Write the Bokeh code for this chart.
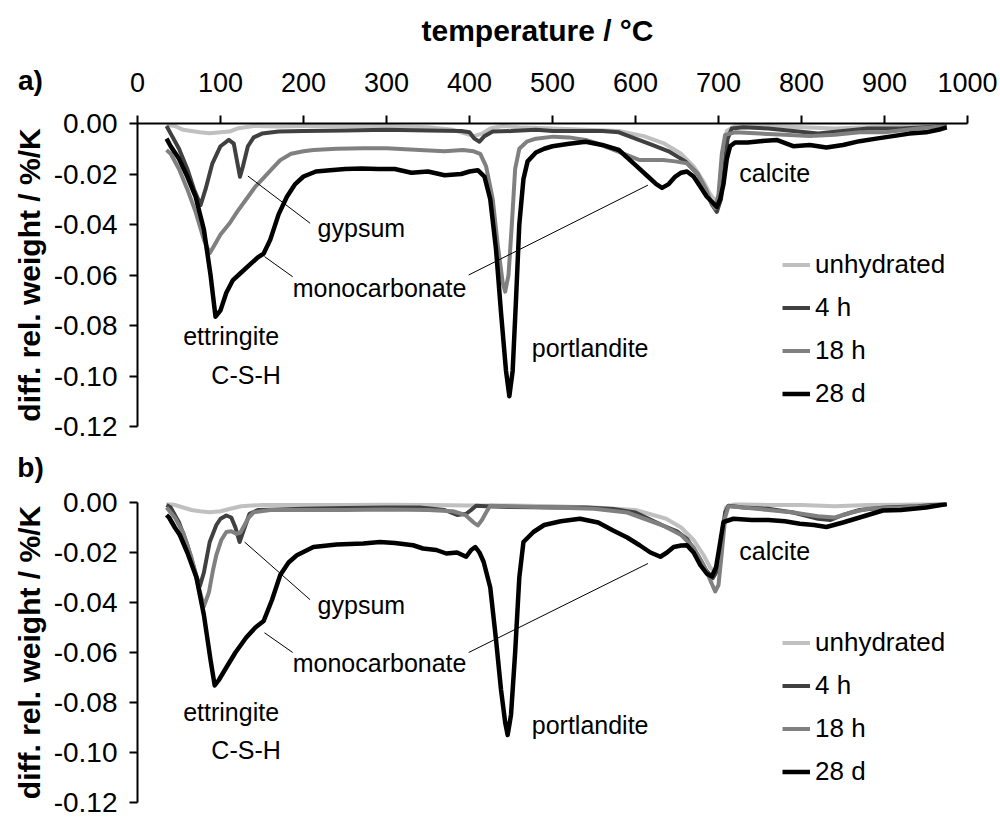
from bokeh.plotting import figure
from bokeh.layouts import column
from bokeh.models import FixedTicker, NumeralTickFormatter, Legend, LegendItem, Range1d, GridBox
from bokeh.core.properties import value
from bokeh.embed import file_html
from bokeh.resources import INLINE

FONT = "Liberation Sans"

series_names = ["unhydrated", "4 h", "18 h", "28 d"]
series_colors = ["#c0c0c0", "#404040", "#808080", "#000000"]
series_widths = [4, 4, 4, 4.5]

x_ticks = [0, 100, 200, 300, 400, 500, 600, 700, 800, 900, 1000]
y_ticks = [-0.12, -0.10, -0.08, -0.06, -0.04, -0.02, 0.00]

a_unh_T = [35, 45, 55, 65, 75, 87, 100, 111, 120, 140, 170, 200, 250, 300, 350, 380, 395, 405, 415, 425, 440, 460, 500, 540, 580, 610, 635, 655, 670, 682, 690, 697, 702, 706, 710, 720, 760, 800, 840, 880, 920, 950, 975]
a_unh_v = [-0.0005, -0.001, -0.0025, -0.003, -0.0035, -0.0039, -0.0035, -0.0032, -0.002, -0.001, -0.0012, -0.001, -0.001, -0.001, -0.0015, -0.0025, -0.004, -0.005, -0.004, -0.002, -0.001, -0.0015, -0.002, -0.0025, -0.003, -0.005, -0.008, -0.012, -0.017, -0.023, -0.028, -0.031, -0.027, -0.012, -0.003, -0.001, -0.001, -0.0015, -0.002, -0.0015, -0.001, -0.001, -0.0005]

a_4h_T = [35, 40, 50, 60, 68, 76, 82, 90, 100, 110, 116, 120, 123.5, 127, 133, 140, 150, 170, 200, 250, 300, 350, 390, 400, 406, 412, 418, 428, 450, 480, 500, 530, 560, 580, 600, 620, 640, 660, 675, 685, 692, 698, 703, 707, 711, 716, 730, 760, 790, 820, 850, 880, 920, 950, 975]
a_4h_v = [-0.001, -0.004, -0.010, -0.018, -0.026, -0.0323, -0.026, -0.016, -0.009, -0.0065, -0.008, -0.015, -0.0211, -0.017, -0.009, -0.0055, -0.004, -0.0032, -0.003, -0.0028, -0.0025, -0.0028, -0.003, -0.0035, -0.006, -0.0072, -0.005, -0.0032, -0.003, -0.0025, -0.003, -0.003, -0.003, -0.0035, -0.006, -0.0085, -0.011, -0.015, -0.020, -0.027, -0.032, -0.035, -0.030, -0.018, -0.006, -0.002, -0.0015, -0.002, -0.003, -0.004, -0.003, -0.002, -0.002, -0.0015, -0.001]

a_18h_T = [35, 40, 50, 60, 70, 80, 87, 93, 100, 111, 120, 131, 142, 152, 162, 172, 185, 200, 212, 240, 272, 300, 340, 370, 392, 405, 413, 420, 428, 434, 440, 443, 447, 451, 455, 460, 469, 480, 501, 520, 540, 553, 570, 590, 605, 620, 633, 648, 662, 675, 685, 691, 696, 700, 704, 708, 720, 750, 780, 810, 840, 870, 900, 940, 975]
a_18h_v = [-0.0105, -0.012, -0.018, -0.026, -0.035, -0.046, -0.0514, -0.048, -0.044, -0.0395, -0.035, -0.030, -0.025, -0.0215, -0.018, -0.0145, -0.012, -0.011, -0.0105, -0.010, -0.0098, -0.0098, -0.0105, -0.011, -0.0105, -0.011, -0.012, -0.017, -0.030, -0.048, -0.063, -0.0666, -0.060, -0.040, -0.018, -0.010, -0.0072, -0.006, -0.0052, -0.0055, -0.0065, -0.0078, -0.010, -0.0125, -0.0145, -0.0145, -0.0145, -0.015, -0.0158, -0.020, -0.026, -0.031, -0.0336, -0.028, -0.012, -0.0045, -0.0035, -0.004, -0.0045, -0.005, -0.0045, -0.0035, -0.0035, -0.002, -0.001]

a_28d_T = [35, 40, 50, 60, 70, 80, 88, 94, 100, 107, 115, 125, 135, 145, 152, 160, 170, 180, 190, 200, 215, 232, 250, 270, 290, 310, 330, 350, 370, 390, 400, 410, 418, 425, 432, 438, 444, 448, 452, 456, 460, 465, 470, 480, 490, 500, 520, 540, 560, 580, 600, 615, 625, 632, 640, 648, 655, 662, 670, 678, 686, 692, 698, 702, 706, 710, 714, 720, 735, 750, 770, 790, 810, 830, 850, 870, 890, 910, 930, 950, 965, 975]
a_28d_v = [-0.006, -0.009, -0.014, -0.021, -0.029, -0.042, -0.060, -0.0765, -0.074, -0.067, -0.062, -0.059, -0.056, -0.053, -0.0515, -0.046, -0.036, -0.029, -0.024, -0.021, -0.019, -0.0185, -0.018, -0.0178, -0.018, -0.018, -0.0195, -0.019, -0.0205, -0.020, -0.019, -0.0185, -0.021, -0.030, -0.050, -0.075, -0.098, -0.108, -0.098, -0.070, -0.040, -0.022, -0.015, -0.0115, -0.010, -0.009, -0.008, -0.0072, -0.0085, -0.0105, -0.0165, -0.021, -0.024, -0.0255, -0.024, -0.021, -0.0195, -0.019, -0.021, -0.025, -0.029, -0.031, -0.033, -0.030, -0.024, -0.014, -0.009, -0.0075, -0.0075, -0.007, -0.0065, -0.009, -0.0085, -0.0095, -0.0085, -0.007, -0.006, -0.005, -0.004, -0.0035, -0.0025, -0.0015]

b_unh_T = [35, 45, 55, 65, 75, 87, 100, 112, 125, 150, 200, 250, 300, 350, 400, 450, 500, 550, 600, 637, 655, 670, 682, 690, 696, 701, 705, 709, 720, 760, 800, 840, 880, 920, 950, 975]
b_unh_v = [0.0, -0.001, -0.002, -0.003, -0.0035, -0.0039, -0.0035, -0.0025, -0.0015, -0.001, -0.001, -0.001, -0.0008, -0.001, -0.0012, -0.0012, -0.0015, -0.002, -0.003, -0.0065, -0.010, -0.015, -0.021, -0.026, -0.028, -0.024, -0.010, -0.002, -0.0005, -0.001, -0.001, -0.0015, -0.001, -0.0008, -0.0005, -0.0003]

b_4h_T = [35, 40, 50, 60, 68, 75, 80, 87, 95, 100, 107, 113, 118, 123, 128, 135, 145, 170, 200, 250, 300, 340, 370, 385, 396, 402, 408, 420, 450, 500, 540, 573, 600, 633, 650, 662, 675, 685, 693, 699, 704, 708, 712, 730, 760, 790, 820, 835, 850, 870, 900, 940, 975]
b_4h_v = [-0.001, -0.002, -0.008, -0.017, -0.026, -0.0336, -0.028, -0.0158, -0.009, -0.0065, -0.0052, -0.006, -0.010, -0.0158, -0.011, -0.0045, -0.003, -0.0028, -0.0025, -0.0022, -0.002, -0.002, -0.003, -0.005, -0.0045, -0.003, -0.0013, -0.0015, -0.0018, -0.002, -0.002, -0.0026, -0.004, -0.0092, -0.0115, -0.0145, -0.021, -0.027, -0.0303, -0.027, -0.015, -0.004, -0.0013, -0.002, -0.0025, -0.004, -0.0065, -0.007, -0.005, -0.003, -0.002, -0.0015, -0.0005]

b_18h_T = [35, 45, 55, 65, 73, 80, 86, 91, 95, 101, 107, 113, 119, 124, 129, 134, 140, 160, 200, 250, 300, 350, 380, 395, 405, 410, 415, 420, 425, 450, 500, 550, 590, 633, 655, 670, 682, 690, 696, 700, 704, 708, 712, 730, 760, 790, 820, 840, 860, 880, 920, 950, 975]
b_18h_v = [-0.002, -0.006, -0.012, -0.022, -0.033, -0.0415, -0.036, -0.027, -0.021, -0.015, -0.0118, -0.0115, -0.0125, -0.012, -0.009, -0.006, -0.0039, -0.003, -0.003, -0.003, -0.0028, -0.003, -0.0035, -0.005, -0.008, -0.0092, -0.007, -0.004, -0.0013, -0.0015, -0.002, -0.0025, -0.004, -0.0092, -0.013, -0.018, -0.025, -0.031, -0.0356, -0.033, -0.020, -0.006, -0.0015, -0.002, -0.003, -0.004, -0.0055, -0.006, -0.004, -0.0025, -0.002, -0.0015, -0.0008]

b_28d_T = [35, 38, 45, 51, 60, 71, 80, 88, 93, 98, 107, 118, 131, 142, 152, 162, 172, 182, 192, 212, 240, 272, 292, 310, 332, 344, 360, 372, 385, 396, 402, 407, 412, 417, 425, 432, 438, 443, 446, 450, 455, 460, 465, 477, 490, 510, 533, 555, 573, 590, 605, 618, 630, 638, 646, 655, 662, 670, 678, 686, 692, 697, 701, 706, 718, 740, 760, 780, 798, 815, 830, 850, 870, 898, 920, 950, 975]
b_28d_v = [-0.005, -0.006, -0.010, -0.013, -0.020, -0.030, -0.045, -0.063, -0.0732, -0.071, -0.066, -0.060, -0.054, -0.050, -0.0474, -0.039, -0.029, -0.024, -0.0211, -0.0178, -0.0168, -0.0164, -0.0158, -0.0162, -0.0171, -0.0184, -0.019, -0.0204, -0.020, -0.0217, -0.019, -0.0178, -0.020, -0.0237, -0.034, -0.055, -0.075, -0.088, -0.093, -0.085, -0.060, -0.030, -0.0158, -0.0118, -0.009, -0.0075, -0.0065, -0.008, -0.0112, -0.014, -0.0171, -0.020, -0.0217, -0.020, -0.0178, -0.0172, -0.0171, -0.020, -0.025, -0.0285, -0.0296, -0.026, -0.018, -0.0078, -0.0065, -0.007, -0.007, -0.0075, -0.0085, -0.009, -0.0098, -0.008, -0.006, -0.0032, -0.003, -0.002, -0.0006]

ann_labels = ["gypsum", "monocarbonate", "ettringite", "C-S-H", "portlandite", "calcite"]
a_ann_T = [217, 187, 55, 89, 475, 725]
a_ann_v = [-0.0412, -0.0650, -0.0842, -0.0995, -0.0890, -0.0197]
b_ann_T = [217, 187, 55, 89, 475, 725]
b_ann_v = [-0.0408, -0.0640, -0.0838, -0.0990, -0.0890, -0.0195]

a_lead_T0 = [133, 153, 399]
a_lead_v0 = [-0.0208, -0.0527, -0.0600]
a_lead_T1 = [208, 187, 615]
a_lead_v1 = [-0.0395, -0.0607, -0.0244]
b_lead_T0 = [129, 153, 399]
b_lead_v0 = [-0.0158, -0.0521, -0.0600]
b_lead_T1 = [208, 187, 615]
b_lead_v1 = [-0.0389, -0.0600, -0.0244]

# page-level titles (overlay, positions in page pixels)
page_texts = ["temperature / °C", "a)", "b)"]
page_x = [537, 30, 30]
page_y = [30, 80, 467]


def make_panel(data, ann_T, ann_v, lead, top_axis, height, border_top, border_bottom, legend_y):
    p = figure(width=1000, height=height, output_backend="svg", toolbar_location=None,
               x_range=Range1d(0, 1000), y_range=Range1d(-0.12, 0.0),
               x_axis_location="above" if top_axis else None,
               min_border_left=137, min_border_right=33,
               min_border_top=border_top, min_border_bottom=border_bottom)
    p.outline_line_color = None
    p.xgrid.visible = False
    p.ygrid.visible = False
    p.background_fill_color = "white"
    p.border_fill_color = "white"

    items = []
    for (T, v), name, col, w in zip(data, series_names, series_colors, series_widths):
        r = p.line(T, v, line_color=col, line_width=w, line_join="round")
        items.append(LegendItem(label=name, renderers=[r]))

    p.segment(x0=lead[0], y0=lead[1], x1=lead[2], y1=lead[3], line_color="black", line_width=1)
    p.text(x=ann_T, y=ann_v, text=ann_labels, text_font=value(FONT), text_font_size="25px",
           text_baseline="middle", text_align="left", text_color="black")

    yax = p.yaxis[0]
    yax.ticker = FixedTicker(ticks=y_ticks)
    yax.formatter = NumeralTickFormatter(format="0.00")
    yax.axis_label = "diff. rel. weight / %/K"
    yax.axis_label_text_font = FONT
    yax.axis_label_text_font_style = "bold"
    yax.axis_label_text_font_size = "30px"
    yax.axis_label_text_color = "black"
    yax.axis_label_standoff = 5
    yax.major_label_text_font = FONT
    yax.major_label_text_font_size = "28px"
    yax.major_label_text_color = "black"
    yax.major_label_standoff = 12
    yax.axis_line_width = 2
    yax.major_tick_line_width = 2
    yax.major_tick_out = 8
    yax.major_tick_in = 0
    yax.minor_tick_out = 0
    yax.minor_tick_in = 0

    if top_axis:
        xax = p.xaxis[0]
        xax.ticker = FixedTicker(ticks=x_ticks)
        xax.major_label_text_font = FONT
        xax.major_label_text_font_size = "27px"
        xax.major_label_text_color = "black"
        xax.major_label_standoff = 24
        xax.axis_line_width = 2
        xax.major_tick_line_width = 2
        xax.major_tick_out = 8
        xax.major_tick_in = 0
        xax.minor_tick_out = 0
        xax.minor_tick_in = 0

    leg = Legend(items=items, location=(645, legend_y), orientation="vertical")
    leg.label_text_font = FONT
    leg.label_text_font_size = "26px"
    leg.label_text_color = "black"
    leg.glyph_width = 28
    leg.glyph_height = 29
    leg.label_height = 29
    leg.spacing = 12
    leg.label_standoff = 5
    leg.padding = 0
    leg.margin = 0
    leg.border_line_alpha = 0
    leg.background_fill_alpha = 0
    p.add_layout(leg, "center")
    return p


pa = make_panel([(a_unh_T, a_unh_v), (a_4h_T, a_4h_v), (a_18h_T, a_18h_v), (a_28d_T, a_28d_v)],
                a_ann_T, a_ann_v, (a_lead_T0, a_lead_v0, a_lead_T1, a_lead_v1),
                True, 445, 123, 19, 17)
pb = make_panel([(b_unh_T, b_unh_v), (b_4h_T, b_4h_v), (b_18h_T, b_18h_v), (b_28d_T, b_28d_v)],
                b_ann_T, b_ann_v, (b_lead_T0, b_lead_v0, b_lead_T1, b_lead_v1),
                False, 373, 57, 16, 15)

# transparent overlay figure in page pixel coordinates, for texts outside the plot frames
ov = figure(width=1000, height=818, output_backend="svg", toolbar_location=None,
            x_range=Range1d(0, 1000), y_range=Range1d(818, 0),
            x_axis_location=None, y_axis_location=None, min_border=0)
ov.outline_line_color = None
ov.xgrid.visible = False
ov.ygrid.visible = False
ov.background_fill_alpha = 0
ov.border_fill_alpha = 0
ov.text(x=page_x, y=page_y, text=page_texts, text_font=value(FONT), text_font_style="bold",
        text_font_size=["30px", "28px", "28px"], text_align="center", text_baseline="middle",
        text_color="black")

stack = column(pa, pb, spacing=0)
layout = GridBox(children=[(stack, 0, 0), (ov, 0, 0)])
open("out.html", "w").write(file_html(layout, INLINE))
